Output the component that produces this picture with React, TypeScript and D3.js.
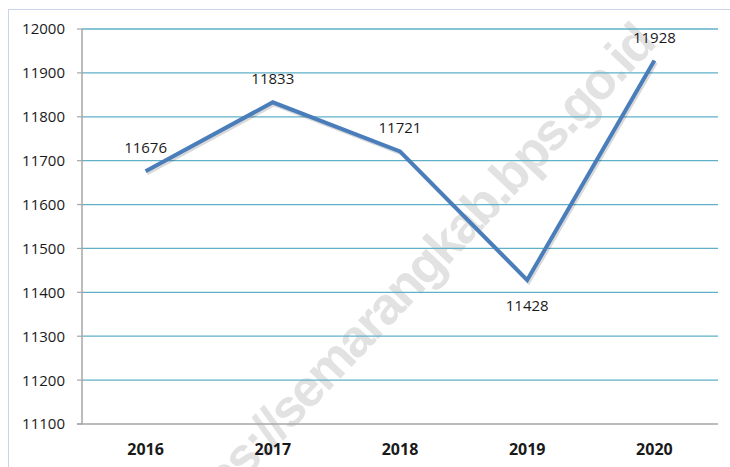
import React from "react";
import * as d3 from "d3";

// source values
const years = ["2016", "2017", "2018", "2019", "2020"];
const values = [11676, 11833, 11721, 11428, 11928];
const labelBelow = [false, false, false, true, false];
const yTicks = d3.range(11100, 12001, 100);

const W = 730;
const H = 467;
const margin = { left: 82, right: 12, top: 29, bottom: 43 };

export default function App() {
  const x = d3
    .scaleBand<string>()
    .domain(years)
    .range([margin.left, W - margin.right]);
  const y = d3
    .scaleLinear()
    .domain([11100, 12000])
    .range([H - margin.bottom, margin.top]);

  const cx = (yr: string) => (x(yr) as number) + x.bandwidth() / 2;
  const pts: [number, number][] = years.map((yr, i) => [cx(yr), y(values[i])]);
  const line = d3.line();

  const font = "'Open Sans', 'Liberation Sans', sans-serif";
  const x0 = margin.left;
  const x1 = W - margin.right;

  return (
    <div style={{ position: "absolute", left: 0, top: 0 }}>
      <svg width={W} height={H} style={{ display: "block", background: "#fff" }}>
        {/* dotted frame */}
        <rect
          x={8.5}
          y={9.5}
          width={W + 20}
          height={H + 20}
          fill="none"
          stroke="#8fa8d8"
          strokeDasharray="1,1"
        />

        {/* watermark, sits under the chart marks */}
        <text
          x={410}
          y={285}
          dy="0.27em"
          textAnchor="middle"
          transform="rotate(-46.5 410 285)"
          fontFamily="'Liberation Sans', Arial, sans-serif"
          fontWeight="bold"
          fontSize={52}
          letterSpacing={-2.3}
          fill="#e2e2e2"
        >
          https://semarangkab.bps.go.id
        </text>

        {/* gridlines */}
        {yTicks.slice(1).map((t) => (
          <line key={t} x1={x0} x2={x1} y1={y(t)} y2={y(t)} stroke="#5fb0c8" strokeWidth={1.3} />
        ))}

        {/* axes */}
        <line x1={x0} x2={x0} y1={y(12000)} y2={y(11100)} stroke="#a6a6a6" strokeWidth={1.5} />
        <line x1={x0 - 5} x2={x1} y1={y(11100)} y2={y(11100)} stroke="#a6a6a6" strokeWidth={1.5} />
        {yTicks.map((t) => (
          <g key={t}>
            <line x1={x0 - 5} x2={x0} y1={y(t)} y2={y(t)} stroke="#a6a6a6" strokeWidth={1.2} />
            <text
              x={65}
              y={y(t)}
              dy="0.36em"
              textAnchor="end"
              fontFamily={font}
              fontSize={15}
              fill="#1a1a1a"
            >
              {t}
            </text>
          </g>
        ))}
        {years.map((yr) => (
          <text
            key={yr}
            x={cx(yr)}
            y={455}
            textAnchor="middle"
            fontFamily={font}
            fontSize={16}
            fontWeight="bold"
            fill="#1a1a1a"
          >
            {yr}
          </text>
        ))}

        {/* series */}
        <path
          d={line(pts.map(([a, b]) => [a + 1.5, b + 2]) as [number, number][]) || ""}
          fill="none"
          stroke="#000"
          strokeOpacity={0.15}
          strokeWidth={4}
        />
        <path d={line(pts) || ""} fill="none" stroke="#4a7ebb" strokeWidth={4} strokeLinejoin="miter" />

        {pts.map(([px, py], i) => (
          <text
            key={years[i]}
            x={px}
            y={labelBelow[i] ? py + 31 : py - 18}
            textAnchor="middle"
            fontFamily={font}
            fontSize={15}
            fill="#1a1a1a"
          >
            {values[i]}
          </text>
        ))}
      </svg>
    </div>
  );
}
